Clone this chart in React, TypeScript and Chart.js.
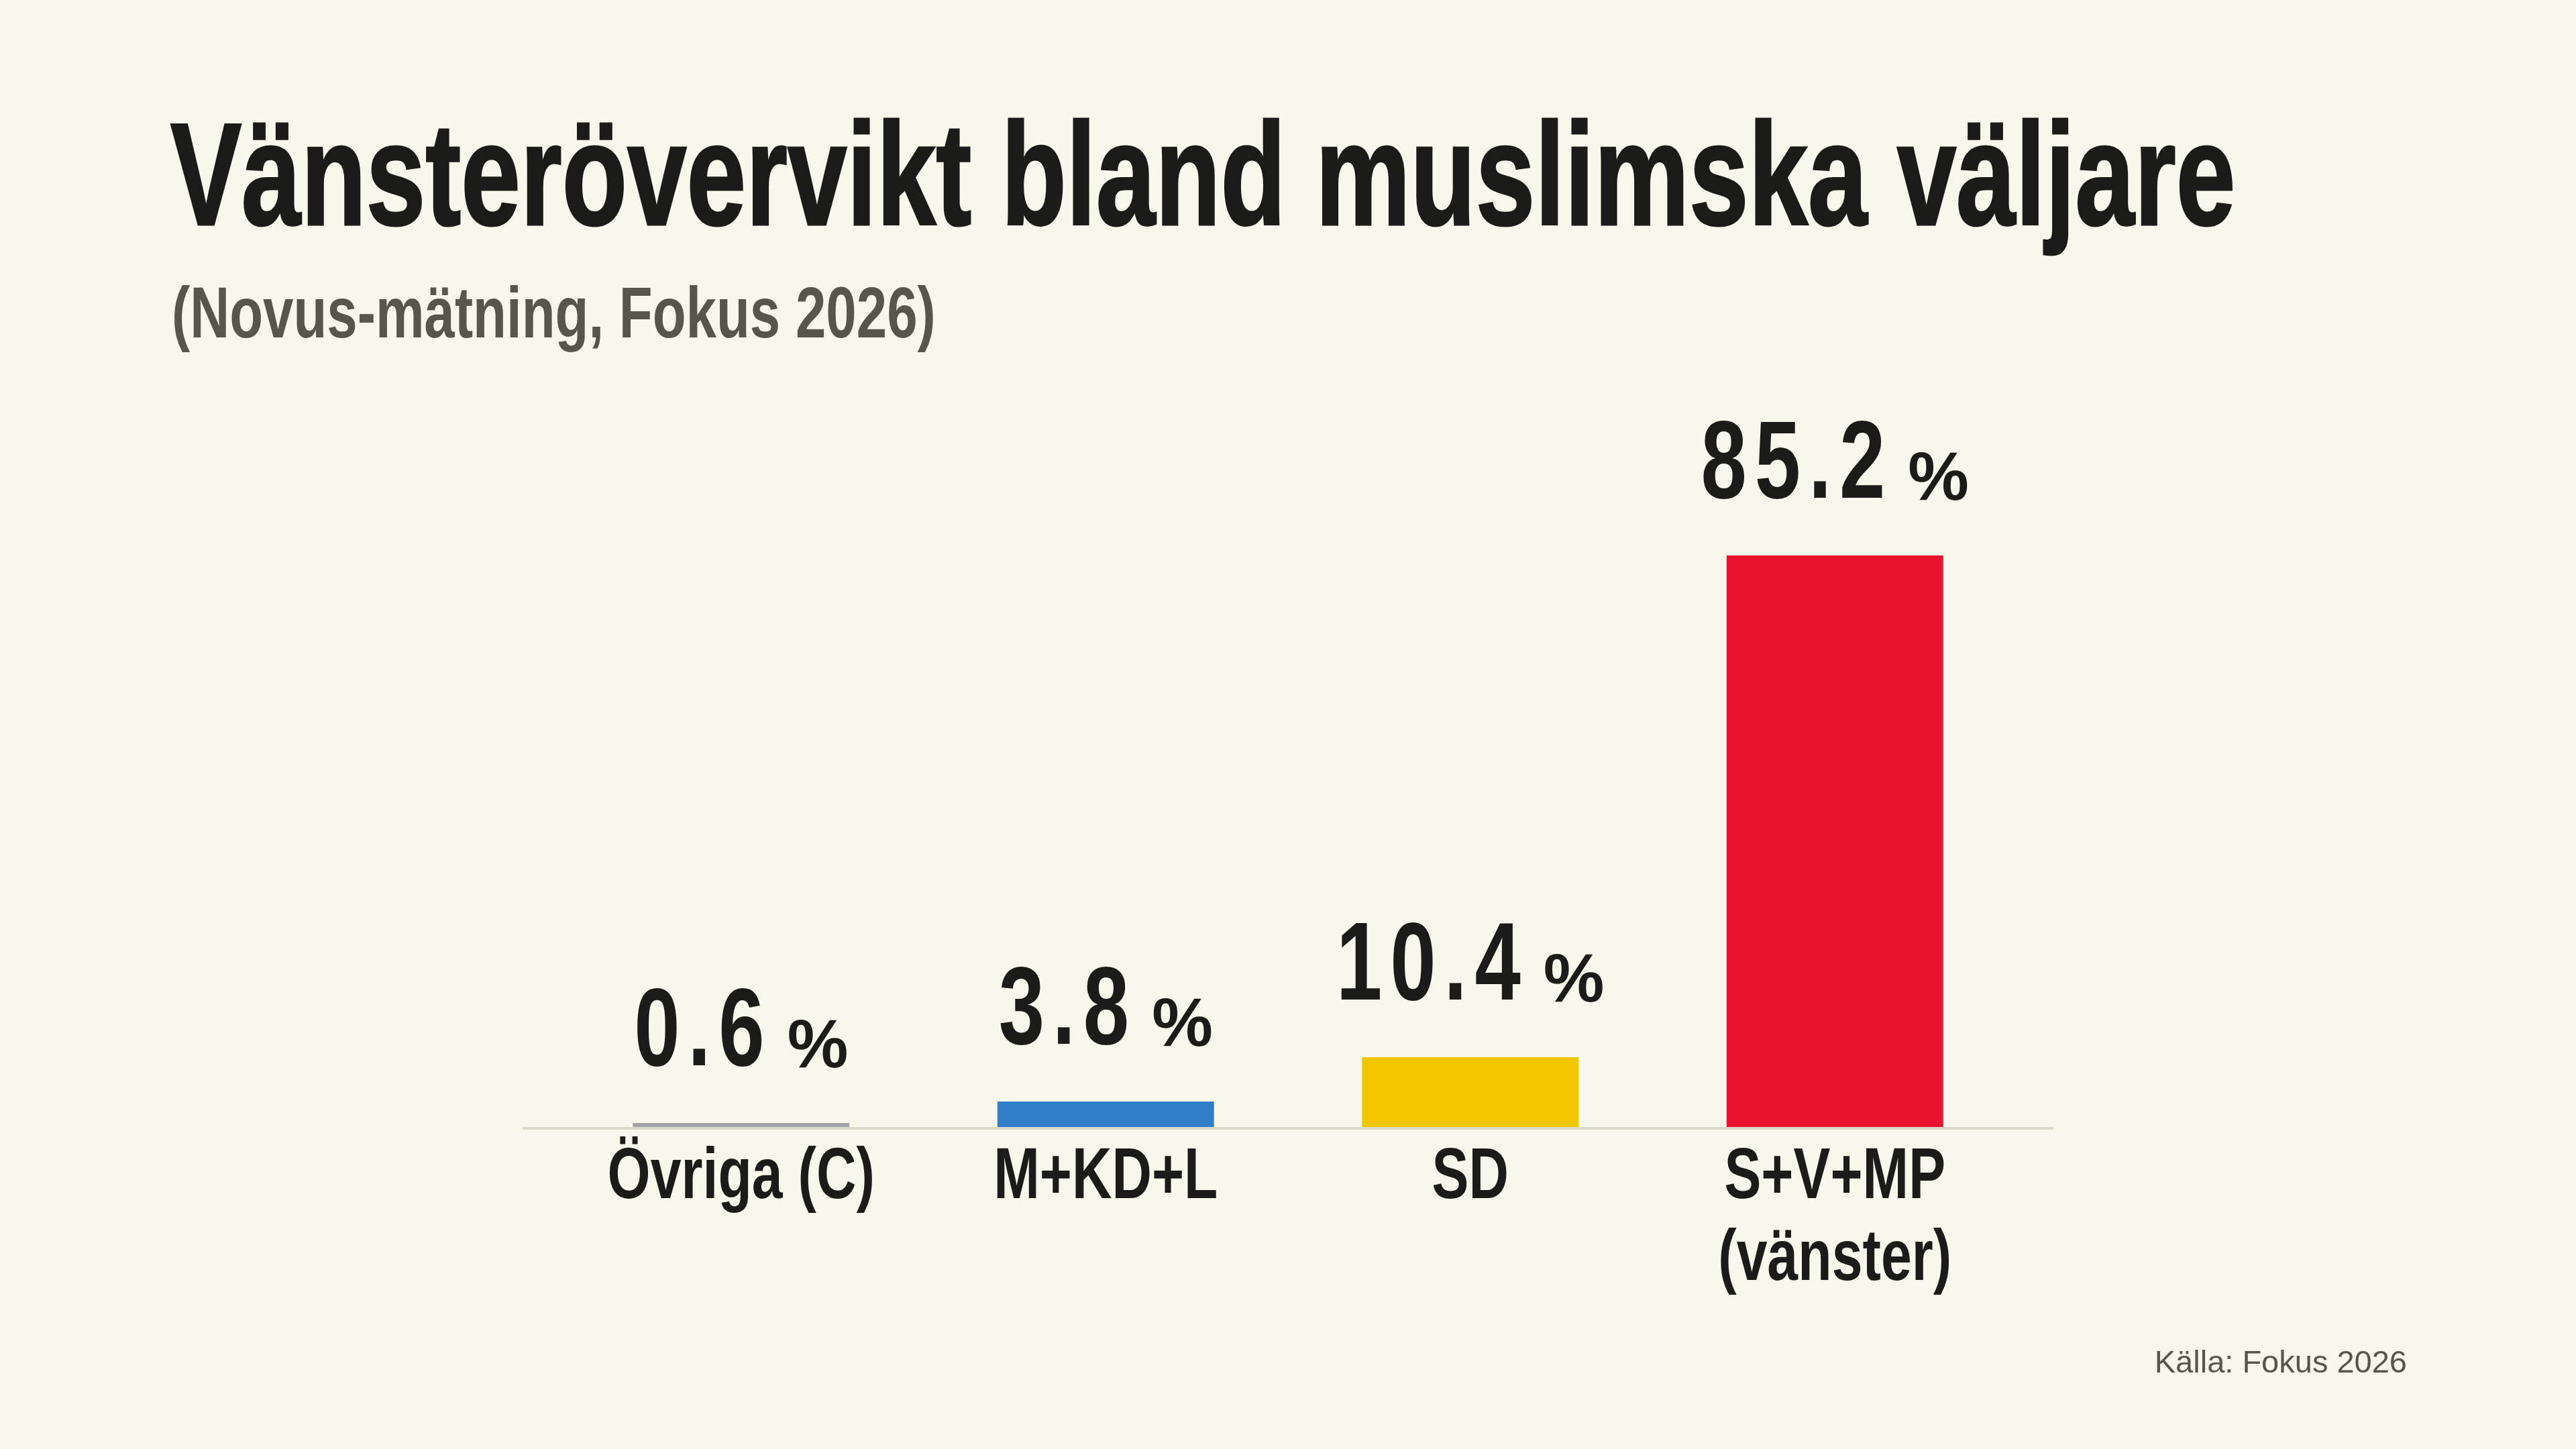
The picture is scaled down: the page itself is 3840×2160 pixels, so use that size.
import { useEffect, useRef } from "react";
import Chart from "chart.js/auto";

// data
const categories: (string | string[])[] = ["Övriga (C)", "M+KD+L", "SD", ["S+V+MP", "(vänster)"]];
const shares = [0.6, 3.8, 10.4, 85.2];
const barColors = ["#a3a6a9", "#2f7cc7", "#f2c600", "#e8132f"];

const BG = "#f7f7eb";
const INK = "#1b1b19";
const MUTED = "#56564b";
const SANS = '"Liberation Sans", Arial, sans-serif';

// condensed look: bold sans squeezed horizontally
function squeezed(ctx: CanvasRenderingContext2D, text: string, x: number, y: number, sx: number) {
  ctx.save();
  ctx.translate(x, y);
  ctx.scale(sx, 1);
  ctx.fillText(text, 0, 0);
  ctx.restore();
}

const valueLabels = {
  id: "valueLabels",
  afterDatasetsDraw(chart: any) {
    const { ctx } = chart;
    const bars = chart.getDatasetMeta(0).data;
    const SX = 0.74;
    const LS = 16;
    ctx.save();
    ctx.fillStyle = INK;
    ctx.textAlign = "left";
    ctx.textBaseline = "alphabetic";
    bars.forEach((bar: any, i: number) => {
      const num = shares[i].toFixed(1);
      ctx.font = `bold 166px ${SANS}`;
      ctx.letterSpacing = `${LS}px`;
      const nw = (ctx.measureText(num).width - LS) * SX;
      ctx.font = `bold 102px ${SANS}`;
      ctx.letterSpacing = "0px";
      const pw = ctx.measureText("%").width;
      const gap = 34;
      const x0 = bar.x - (nw + gap + pw) / 2;
      const y = bar.y - 86;
      ctx.font = `bold 166px ${SANS}`;
      ctx.letterSpacing = `${LS}px`;
      squeezed(ctx, num, x0, y, SX);
      ctx.font = `bold 102px ${SANS}`;
      ctx.letterSpacing = "0px";
      ctx.fillText("%", x0 + nw + gap, y + 3);
    });
    ctx.restore();
  },
};

// category names under the bars, placed on the x scale's tick positions
const categoryLabels = {
  id: "categoryLabels",
  afterDraw(chart: any) {
    const { ctx, chartArea } = chart;
    const xScale = chart.scales.x;
    ctx.save();
    ctx.fillStyle = INK;
    ctx.font = `bold 107px ${SANS}`;
    ctx.textAlign = "center";
    ctx.textBaseline = "alphabetic";
    categories.forEach((label, i) => {
      const lines = Array.isArray(label) ? label : [label];
      const x = xScale.getPixelForTick(i);
      lines.forEach((line, j) => {
        squeezed(ctx, line, x, chartArea.bottom + 106 + j * 122, 0.77);
      });
    });
    ctx.restore();
  },
};

const baseLine = {
  id: "baseLine",
  beforeDatasetsDraw(chart: any) {
    const { ctx, chartArea } = chart;
    ctx.save();
    ctx.strokeStyle = "#dcdbcb";
    ctx.lineWidth = 4;
    ctx.beginPath();
    ctx.moveTo(chartArea.left - 54, chartArea.bottom + 2);
    ctx.lineTo(chartArea.right + 54, chartArea.bottom + 2);
    ctx.stroke();
    ctx.restore();
  },
};

function ShareChart() {
  const canvasRef = useRef<HTMLCanvasElement>(null);
  const chartRef = useRef<Chart | null>(null);

  useEffect(() => {
    if (!canvasRef.current) return;
    chartRef.current?.destroy();

    chartRef.current = new Chart(canvasRef.current, {
      type: "bar",
      data: {
        labels: categories,
        datasets: [
          {
            data: shares,
            backgroundColor: barColors,
            borderWidth: 0,
            categoryPercentage: 1,
            barPercentage: 0.594,
          },
        ],
      },
      options: {
        responsive: true,
        maintainAspectRatio: false,
        animation: false,
        layout: { padding: { top: 680, left: 833, right: 833, bottom: 180 } },
        plugins: { legend: { display: false }, tooltip: { enabled: false } },
        scales: {
          x: {
            grid: { display: false },
            border: { display: false },
            ticks: { display: false },
            afterFit: (scale: any) => {
              scale.height = 300;
            },
          },
          y: { display: false, min: 0, max: 100 },
        },
      },
      plugins: [baseLine, valueLabels, categoryLabels],
    });

    return () => {
      chartRef.current?.destroy();
      chartRef.current = null;
    };
  }, []);

  return (
    <div style={{ position: "absolute", left: 0, top: 0, width: 3840, height: 2160 }}>
      <canvas ref={canvasRef} />
    </div>
  );
}

export default function App() {
  return (
    <div
      style={{
        position: "absolute",
        left: 0,
        top: 0,
        width: 3840,
        height: 2160,
        background: BG,
        overflow: "hidden",
      }}
    >
      <ShareChart />
      <div
        style={{
          position: "absolute",
          left: 254,
          top: 151,
          fontFamily: SANS,
          fontWeight: "bold",
          fontSize: 218,
          lineHeight: 1,
          color: INK,
          WebkitTextStroke: `3px ${INK}`,
          whiteSpace: "nowrap",
          transform: "scaleX(0.73)",
          transformOrigin: "left top",
        }}
      >
        Vänsterövervikt bland muslimska väljare
      </div>
      <div
        style={{
          position: "absolute",
          left: 256,
          top: 412,
          fontFamily: SANS,
          fontWeight: "bold",
          fontSize: 108,
          lineHeight: 1,
          color: MUTED,
          whiteSpace: "nowrap",
          transform: "scaleX(0.756)",
          transformOrigin: "left top",
        }}
      >
        (Novus-mätning, Fokus 2026)
      </div>
      <div
        style={{
          position: "absolute",
          right: 252,
          top: 2006,
          fontFamily: SANS,
          fontSize: 47,
          lineHeight: 1,
          color: MUTED,
          whiteSpace: "nowrap",
        }}
      >
        Källa: Fokus 2026
      </div>
    </div>
  );
}
